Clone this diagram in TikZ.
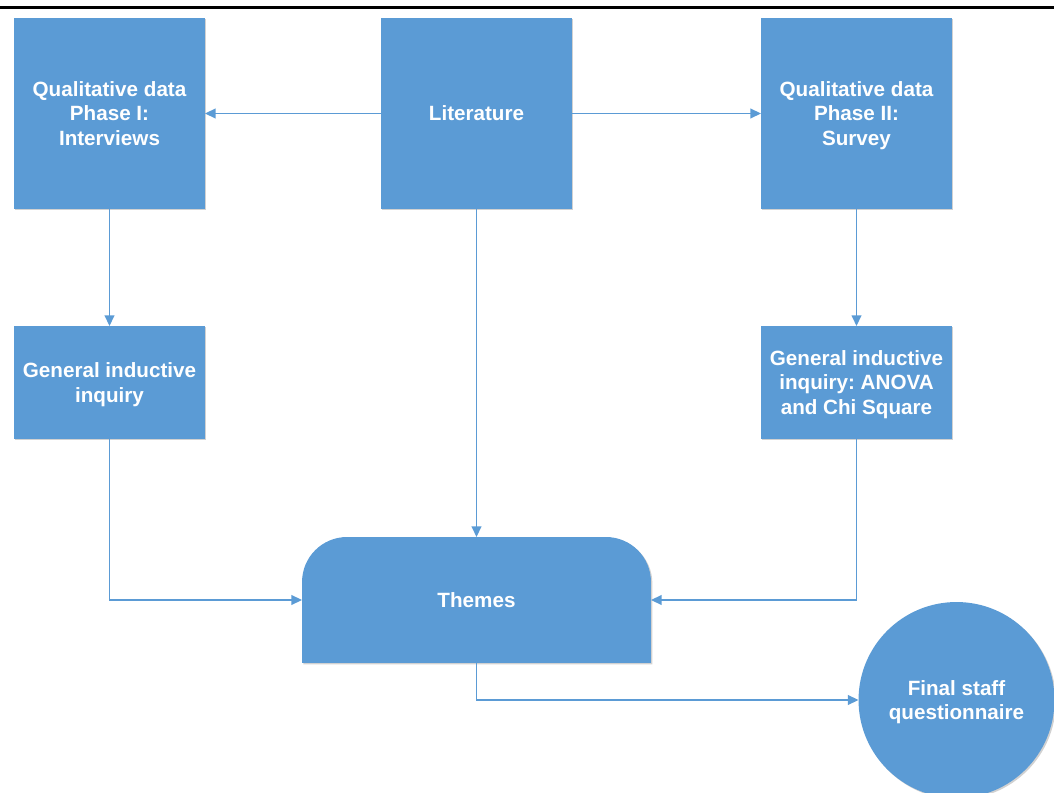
\documentclass[tikz,border=0pt]{standalone}
\usepackage{fontspec}
\setmainfont{Liberation Sans}
\usetikzlibrary{arrows.meta,shadows,backgrounds}
\definecolor{boxblue}{HTML}{5B9BD5}
\frenchspacing

\begin{document}
\begin{tikzpicture}[x=0.02cm,y=-0.02cm,
	boxtext/.style={text=white, align=center, inner sep=0pt, outer sep=0pt, text depth=0pt,
		font=\fontsize{11.75}{14.2}\selectfont\bfseries},
	softshadow/.style={drop shadow={shadow xshift=0.8pt, shadow yshift=-0.8pt, opacity=0.3, fill=black!60}},
	box/.style={boxtext, rectangle, fill=boxblue, softshadow},
	bigbox/.style={box, minimum width=3.82cm, minimum height=3.82cm},
	smallbox/.style={box, minimum width=3.82cm, minimum height=2.26cm},
	link/.style={draw=boxblue, line width=0.8pt, -{Triangle[width=5.5pt,length=6pt]}}]
		
		\path[use as bounding box, clip] (0,0) rectangle (1054,793);
		\draw[line width=1.7pt] (0,8) -- (1054,8);
		
		\node[bigbox] (qual1) at (109.5,113.5) {Qualitative data\\Phase I:\\Interviews};
		\node[bigbox] (lit) at (476.5,113.5) {Literature};
		\node[bigbox] (qual2) at (856.5,113.5) {Qualitative data\\Phase II:\\Survey};
		
		\node[smallbox] (induct1) at (109.5,382.5) {General inductive\\inquiry};
		\node[smallbox] (induct2) at (856.5,382.5) {General inductive\\inquiry: ANOVA\\and Chi Square};
		
		\node[boxtext, rectangle, minimum width=6.98cm, minimum height=2.52cm] (themes) at (476.5,600) {Themes};
		\begin{scope}[on background layer]
		\fill[boxblue, softshadow]
		(themes.south west) [rounded corners=0.9cm] -- (themes.north west) -- (themes.north east) [sharp corners] -- (themes.south east) -- cycle;
		\end{scope}
		
		\node[box, circle, minimum size=3.92cm] (final) at (956.5,700) {Final staff\\questionnaire};
		
		\draw[link] (lit.west) -- (qual1.east);
		\draw[link] (lit.east) -- (qual2.west);
		\draw[link] (qual1.south) -- (induct1.north);
		\draw[link] (qual2.south) -- (induct2.north);
		\draw[link] (lit.south) -- (themes.north);
		\draw[link] (induct1.south) |- (themes.west);
		\draw[link] (induct2.south) |- (themes.east);
		\draw[link] (themes.south) |- (final.west);
		
	\end{tikzpicture}
\end{document}
